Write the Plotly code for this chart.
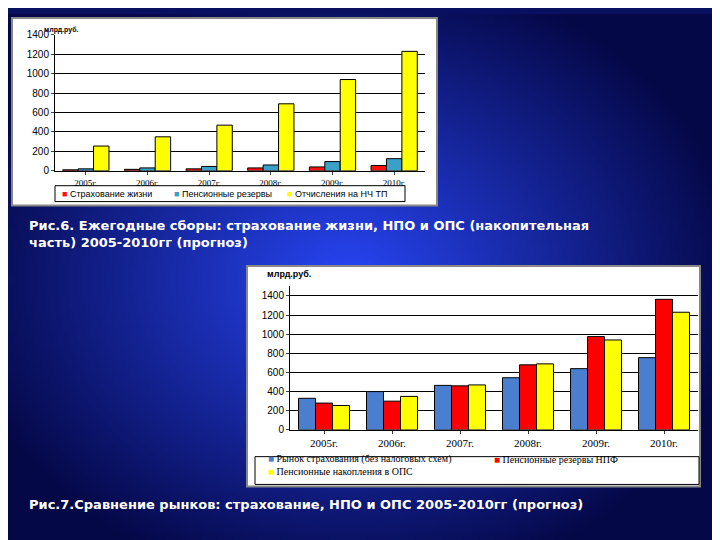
import plotly.graph_objects as go
import numpy as np, zlib, struct, base64

years = ["2005г.", "2006г.", "2007г.", "2008г.", "2009г.", "2010г."]
life_ins = [10, 15, 20, 30, 40, 55]
pension_res_top = [20, 30, 45, 60, 95, 125]
ops_top = [255, 350, 470, 690, 940, 1230]
ins_market = [330, 400, 465, 545, 640, 755]
npf_res = [280, 300, 460, 680, 975, 1365]
ops_bot = [255, 350, 470, 690, 940, 1230]
ticks = [0, 200, 400, 600, 800, 1000, 1200, 1400]

OFF = 8
def PX(p): return (p - OFF) / 720
def PY(p): return 1 - (p - OFF) / 532

# background gradient PNG
W, H = 180, 135
yy, xx = np.mgrid[0:H, 0:W]
d = np.sqrt(((xx - W*0.47)/(W*0.55))**2 + ((yy - H*0.5)/(H*0.6))**2)
t = np.clip(d, 0, 1)
c0 = np.array([40, 70, 245]); c1 = np.array([5, 8, 70])
img = (c0[None, None, :]*(1-t[..., None]) + c1[None, None, :]*t[..., None]).astype(np.uint8)
raw = b"".join(b"\x00" + img[r].tobytes() for r in range(H))
def chunk(tag, data):
    return struct.pack(">I", len(data)) + tag + data + struct.pack(">I", zlib.crc32(tag + data) & 0xffffffff)
png = b"\x89PNG\r\n\x1a\n" + chunk(b"IHDR", struct.pack(">IIBBBBB", W, H, 8, 2, 0, 0, 0)) + chunk(b"IDAT", zlib.compress(raw)) + chunk(b"IEND", b"")
uri = "data:image/png;base64," + base64.b64encode(png).decode()

c_life, c_pr, c_ops = "#ff1010", "#3aa0c8", "#ffff00"
c_ins, c_npf = "#4a7fd0", "#ff0000"

fig = go.Figure()
lf = dict(color="black", width=1)
fig.add_bar(x=years, y=life_ins, name="Страхование жизни", marker=dict(color=c_life, line=lf), xaxis="x", yaxis="y")
fig.add_bar(x=years, y=pension_res_top, name="Пенсионные резервы", marker=dict(color=c_pr, line=lf), xaxis="x", yaxis="y")
fig.add_bar(x=years, y=ops_top, name="Отчисления на НЧ ТП", marker=dict(color=c_ops, line=lf), xaxis="x", yaxis="y")
fig.add_bar(x=years, y=ins_market, name="Рынок страхования (без налоговых схем)", marker=dict(color=c_ins, line=lf), xaxis="x2", yaxis="y2")
fig.add_bar(x=years, y=npf_res, name="Пенсионные резервы НПФ", marker=dict(color=c_npf, line=lf), xaxis="x2", yaxis="y2")
fig.add_bar(x=years, y=ops_bot, name="Пенсионные накопления в ОПС", marker=dict(color=c_ops, line=lf), xaxis="x2", yaxis="y2")

def leg(text, color, px, py, size, fam):
    return dict(text=f"<span style='color:{color}'>■</span> {text}", x=PX(px), y=PY(py), xref="paper", yref="paper",
                showarrow=False, xanchor="left", font=dict(family=fam, size=size, color="black"))

def ax(sz):
    return dict(showgrid=False, linecolor="black", showline=True, ticks="outside", ticklen=3,
                tickfont=dict(family="Liberation Serif", size=sz, color="black"))
def ay(top):
    return dict(range=[0, top], tickvals=ticks, gridcolor="black", gridwidth=1, showline=True, linecolor="black",
                ticks="outside", ticklen=3, tickfont=dict(family="Liberation Sans", size=10, color="black"), zeroline=False)
fig.update_layout(
    width=720, height=540, margin=dict(l=0, r=0, t=0, b=0), showlegend=False,
    paper_bgcolor="#0a1060", plot_bgcolor="#c0c0c0", barmode="group", bargap=0.25, bargroupgap=0,
    xaxis=dict(domain=[PX(55), PX(425)], anchor="y", **ax(9)),
    yaxis=dict(domain=[PY(166), PY(29)], anchor="x", **ay(1400)),
    xaxis2=dict(domain=[PX(290), PX(698)], anchor="y2", **ax(11)),
    yaxis2=dict(domain=[PY(427), PY(282)], anchor="x2", **ay(1505)),
    images=[dict(source=uri, xref="paper", yref="paper", x=0, y=1, sizex=1, sizey=1, sizing="stretch", layer="below")],
    shapes=[
        dict(type="rect", xref="paper", yref="paper", x0=PX(12), x1=PX(437), y0=PY(201), y1=PY(12),
             fillcolor="white", line=dict(color="#888888", width=2), layer="below"),
        dict(type="rect", xref="paper", yref="paper", x0=PX(247), x1=PX(700), y0=PY(484), y1=PY(262),
             fillcolor="white", line=dict(color="#888888", width=2), layer="below"),
        dict(type="rect", xref="paper", yref="paper", x0=PX(255), x1=PX(699), y0=PY(482), y1=PY(454),
             fillcolor="rgba(0,0,0,0)", line=dict(color="black", width=1)),
        dict(type="rect", xref="paper", yref="paper", x0=PX(55), x1=PX(405), y0=PY(197), y1=PY(181),
             fillcolor="rgba(0,0,0,0)", line=dict(color="black", width=1)),
    ],
    annotations=[
        dict(text="<b>млрд.руб.</b>", x=PX(42), y=PY(18), xref="paper", yref="paper", showarrow=False,
             font=dict(family="Liberation Sans", size=7, color="black"), xanchor="left"),
        dict(text="<b>млрд.руб.</b>", x=PX(265), y=PY(270), xref="paper", yref="paper", showarrow=False,
             font=dict(family="Liberation Sans", size=9, color="black"), xanchor="left"),
        leg("Страхование жизни", c_life, 60, 189, 9, "Liberation Sans"),
        leg("Пенсионные резервы", c_pr, 172, 189, 9, "Liberation Sans"),
        leg("Отчисления на НЧ ТП", c_ops, 285, 189, 9, "Liberation Sans"),
        leg("Рынок страхования (без налоговых схем)", c_ins, 266, 464, 10, "Liberation Serif"),
        leg("Пенсионные резервы НПФ", c_npf, 492, 464, 10, "Liberation Serif"),
        leg("Пенсионные накопления в ОПС", c_ops, 266, 477, 10, "Liberation Serif"),
        dict(text="<b>Рис.6. Ежегодные сборы: страхование жизни, НПО и ОПС (накопительная<br>часть) 2005-2010гг (прогноз)</b>",
             x=PX(27), y=PY(212), xref="paper", yref="paper", showarrow=False, align="left",
             xanchor="left", yanchor="top", font=dict(family="DejaVu Sans", size=13, color="white")),
        dict(text="<b>Рис.7.Сравнение рынков: страхование, НПО и ОПС 2005-2010гг (прогноз)</b>",
             x=PX(27), y=PY(512), xref="paper", yref="paper", showarrow=False,
             xanchor="left", font=dict(family="DejaVu Sans", size=13, color="white")),
    ],
)
fig.write_html("out.html")
